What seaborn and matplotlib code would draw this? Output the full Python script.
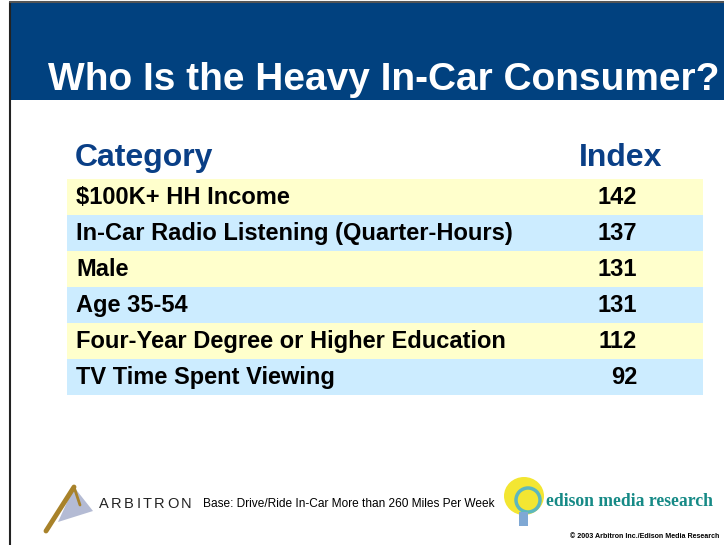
import numpy as np
import matplotlib
matplotlib.use('Agg')
import matplotlib.pyplot as plt
from matplotlib.colors import ListedColormap
from matplotlib.patches import Rectangle, Polygon, Ellipse, Circle
import seaborn as sns

sns.set_theme(style='white')
plt.rcParams['font.family'] = ['Liberation Sans', 'DejaVu Sans']

# table data
categories = [
    '\\$100K+ HH Income',
    'In-Car Radio Listening (Quarter-Hours)',
    'Male',
    'Age 35-54',
    'Four-Year Degree or Higher Education',
    'TV Time Spent Viewing',
]
index_values = [142, 137, 131, 131, 112, 92]

title = 'Who Is the Heavy In-Car Consumer?'
col_headers = ['Category', 'Index']
base_note = 'Base: Drive/Ride In-Car More than 260 Miles Per Week'
copyright_note = '\u00a9 2003 Arbitron Inc./Edison Media Research'

W, H = 724, 545
fig = plt.figure(figsize=(W / 100, H / 100), dpi=100)

# background layer in pixel coordinates
bg = fig.add_axes([0, 0, 1, 1], zorder=0)
bg.set_xlim(0, W)
bg.set_ylim(H, 0)
bg.set_axis_off()

# slide border + header band
bg.plot([10, 10], [2, H], color='#222222', lw=1.5)
bg.plot([10, W], [2, 2], color='#555555', lw=1.5)
bg.add_patch(Rectangle((11, 3), W - 11, 97, color='#01417F', lw=0))
bg.text(384, 90, title, color='white', fontsize=28, fontweight='bold',
        ha='center', va='baseline')

# column headers
bg.text(75, 166, col_headers[0], color='#0A3F86', fontsize=23,
        fontweight='bold', ha='left', va='baseline')
bg.text(662, 166, col_headers[1], color='#0A3F86', fontsize=23,
        fontweight='bold', ha='right', va='baseline')

# table rows: stripes drawn as a one-column heatmap
x0, x1, y0, y1 = 67, 703, 179, 395
tab = fig.add_axes([x0 / W, 1 - y1 / H, (x1 - x0) / W, (y1 - y0) / H], zorder=1)
stripes = (np.arange(len(categories)) % 2).reshape(-1, 1)
sns.heatmap(stripes, ax=tab, cmap=ListedColormap(['#FFFFCC', '#CCECFF']),
            cbar=False, xticklabels=False, yticklabels=False,
            linewidths=0)
tab.set_axis_off()

txt_x = (76 - x0) / (x1 - x0)
val_x = (637 - x0) / (x1 - x0)
for i, (cat, val) in enumerate(zip(categories, index_values)):
    tab.text(txt_x, i + 0.52, cat, fontsize=17, fontweight='bold',
             color='black', ha='left', va='center')
    tab.text(val_x, i + 0.52, str(val), fontsize=17, fontweight='bold',
             color='black', ha='right', va='center')

# Arbitron logo (rough)
bg.add_patch(Polygon([(74, 487), (58, 522), (93, 511)], closed=True,
                     color='#5A6AA0', alpha=0.45, lw=0))
bg.plot([46, 74], [531, 487], color='#A8822A', lw=3.5, solid_capstyle='round')
bg.plot([74, 80], [487, 505], color='#A8822A', lw=2)
# letter-spaced wordmark (Arial advance widths)
adv = {'A': .667, 'R': .722, 'B': .667, 'I': .278, 'T': .611, 'O': .778, 'N': .722}
em = 10.5 * 100 / 72
x = 99
for ch in 'ARBITRON':
    bg.text(x, 508, ch, fontsize=10.5, color='#222222',
            ha='left', va='baseline')
    x += adv[ch] * em + 2.4
bg.text(203, 507, base_note, fontsize=8.6, color='black',
        ha='left', va='baseline')

# Edison logo (rough)
bg.add_patch(Ellipse((524, 496), 40, 38, color='#F3E632', lw=0))
bg.add_patch(Circle((528, 500), 12, fill=False, ec='#5CB7BE', lw=2.5))
bg.add_patch(Rectangle((519, 512), 9, 14, color='#7FA8D4', lw=0))
bg.text(546, 506, 'edison media research', family='Liberation Serif',
        fontsize=12.7, fontweight='bold', color='#168A86',
        ha='left', va='baseline')

bg.text(719, 538, copyright_note, fontsize=5.1, fontweight='bold',
        color='black', ha='right', va='baseline')

fig.savefig('out.png', dpi=100)
